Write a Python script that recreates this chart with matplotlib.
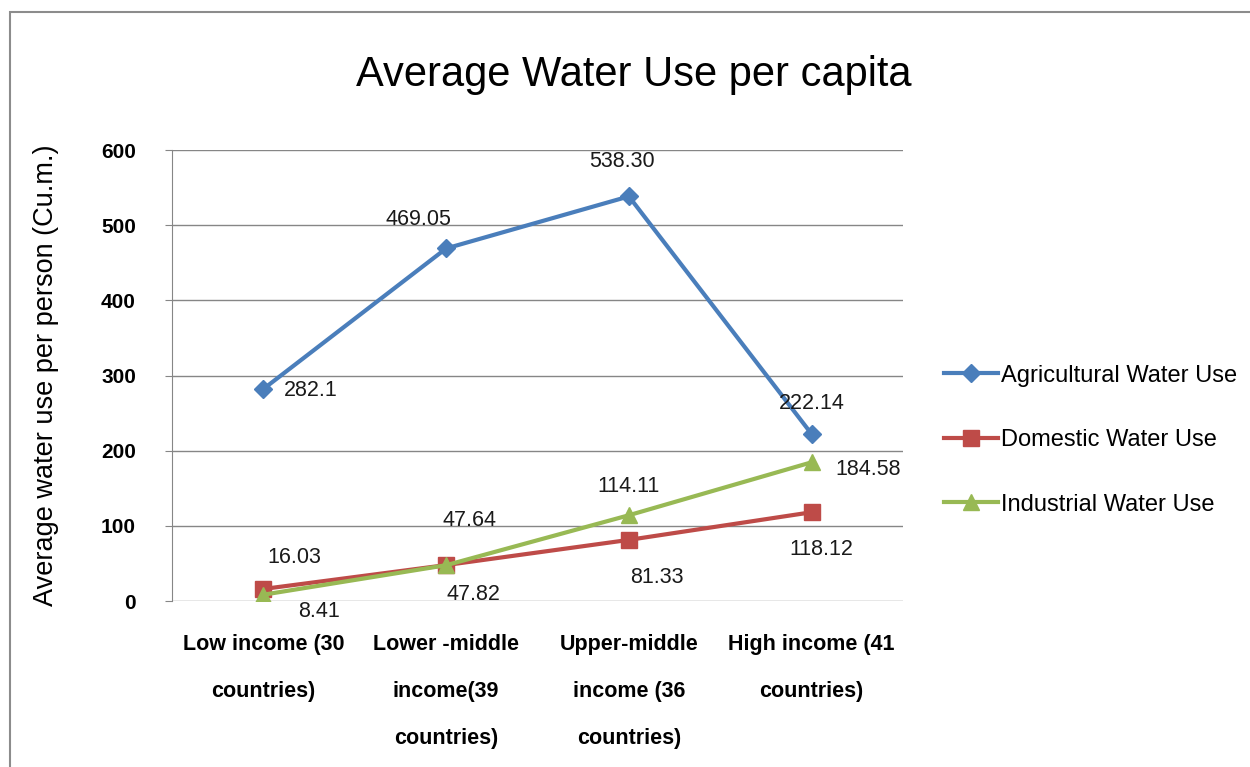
import matplotlib.pyplot as plt
from matplotlib.patches import Rectangle

plt.rcParams["font.family"] = ["Liberation Sans", "DejaVu Sans"]

categories = [
    "Low income (30\ncountries)",
    "Lower -middle\nincome(39\ncountries)",
    "Upper-middle\nincome (36\ncountries)",
    "High income (41\ncountries)",
]
agricultural = [282.1, 469.05, 538.30, 222.14]
domestic = [16.03, 47.82, 81.33, 118.12]
industrial = [8.41, 47.64, 114.11, 184.58]

agri_text = ["282.1", "469.05", "538.30", "222.14"]
dom_text = ["16.03", "47.82", "81.33", "118.12"]
ind_text = ["8.41", "47.64", "114.11", "184.58"]

# label offsets in points, picked per point like the original
agri_off = [(34, -1), (-20, 21), (-5, 25), (0, 22)]
dom_off = [(22, 23), (20, -21), (20, -27), (7, -27)]
ind_off = [(40, -12), (17, 32), (0, 21), (41, -5)]

BLUE = "#4A7EBB"
RED = "#BE4B48"
GREEN = "#98B954"

fig = plt.figure(figsize=(12.5, 7.67), dpi=100)
fig.patches.append(Rectangle((0.008, -0.01), 1.0, 0.995, transform=fig.transFigure,
                             fill=False, edgecolor="#8c8c8c", linewidth=1.5))

ax = fig.add_axes([0.1376, 0.2164, 0.5848, 0.588])
x = list(range(len(categories)))

ax.plot(x, agricultural, color=BLUE, lw=3, marker="D", ms=9, label="Agricultural Water Use")
ax.plot(x, domestic, color=RED, lw=3, marker="s", ms=11, label="Domestic Water Use")
ax.plot(x, industrial, color=GREEN, lw=3, marker="^", ms=12, label="Industrial Water Use")

for vals, texts, offs in [(agricultural, agri_text, agri_off),
                          (domestic, dom_text, dom_off),
                          (industrial, ind_text, ind_off)]:
    for i, (v, t, o) in enumerate(zip(vals, texts, offs)):
        ax.annotate(t, (i, v), xytext=o, textcoords="offset points",
                    ha="center", va="center", fontsize=15.5, color="#1a1a1a")

ax.set_xlim(-0.5, 3.5)
ax.set_ylim(0, 600)
ax.set_yticks(range(0, 601, 100))
ax.set_yticklabels([str(v) for v in range(0, 601, 100)], fontsize=15, fontweight="bold")
ax.set_xticks(x)
ax.set_xticklabels(categories, fontsize=15.5, fontweight="bold", linespacing=2.6, va="top")
ax.tick_params(axis="x", length=0, pad=24)
ax.tick_params(axis="y", length=5, color="#868686", pad=21)
ax.grid(axis="y", color="#868686", lw=1)
ax.set_axisbelow(True)
for s in ["top", "right", "bottom"]:
    ax.spines[s].set_visible(False)
ax.spines["left"].set_color("#868686")

ax.set_ylabel("Average water use per person (Cu.m.)", fontsize=19.5, va="center")
ax.yaxis.set_label_coords(-0.172, 0.5)

fig.text(0.507, 0.902, "Average Water Use per capita", ha="center", va="center", fontsize=30)

ax.legend(loc="center left", bbox_to_anchor=(1.027, 0.357), frameon=False, fontsize=17,
          handlelength=2.3, handletextpad=0.1, labelspacing=1.8)

fig.savefig("out.png", dpi=100)
